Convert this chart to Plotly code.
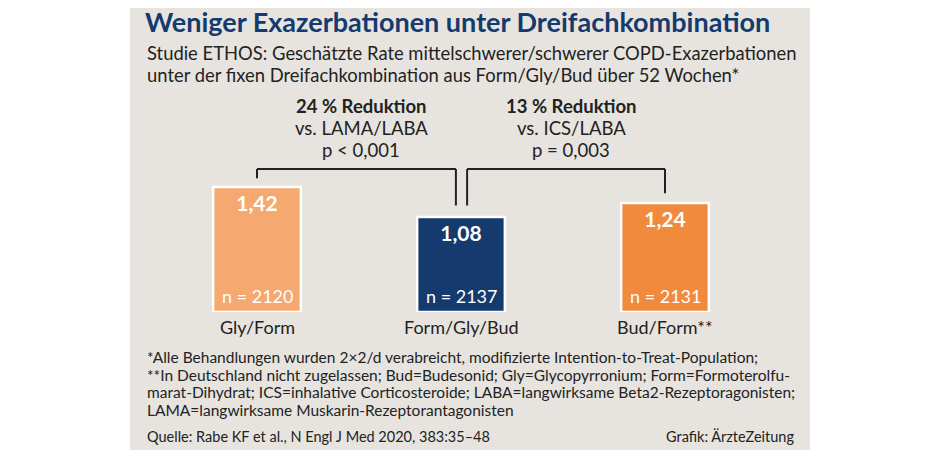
import plotly.graph_objects as go

categories = ["Gly/Form", "Form/Gly/Bud", "Bud/Form**"]
rates = [1.42, 1.08, 1.24]
n_labels = ["n = 2120", "n = 2137", "n = 2131"]
colors = ["#F5A86F", "#143A6E", "#F28A3E"]
xpos = [0, 1, 2]

W, H = 940, 450
OFF = 8  # page body margin
FONT = "Lato"
BG = "#E7E4DF"
BLUE = "#143A6E"

fig = go.Figure()
fig.add_bar(x=xpos, y=rates, width=0.43, marker=dict(color=colors, line=dict(color="white", width=2.5)),
            text=[f"{v:.2f}".replace(".", ",") for v in rates], textposition="inside",
            insidetextanchor="end", textangle=0,
            textfont=dict(family=FONT, size=21, color="white", weight="bold"), hoverinfo="skip")

for x, t in zip(xpos, n_labels):
    fig.add_annotation(x=x, y=0, yshift=16, text=t, showarrow=False, xref="x", yref="y",
                       font=dict(family=FONT, size=18, color="white"), xanchor="center", yanchor="middle")
for x, c in zip(xpos, categories):
    fig.add_annotation(x=x, y=0, yshift=-15, text=c, showarrow=False, xref="x", yref="y",
                       font=dict(family=FONT, size=18, color="#222"), xanchor="center", yanchor="middle")

ytop = 1.625
line = dict(color="#222", width=2)
fig.add_shape(type="line", x0=xpos[0], x1=xpos[0], y0=rates[0] + 0.1, y1=ytop, line=line)
fig.add_shape(type="line", x0=xpos[0], x1=xpos[1] - 0.025, y0=ytop, y1=ytop, line=line)
fig.add_shape(type="line", x0=xpos[1] - 0.025, x1=xpos[1] - 0.025, y0=ytop, y1=rates[1] + 0.13, line=line)
fig.add_shape(type="line", x0=xpos[1] + 0.03, x1=xpos[1] + 0.03, y0=rates[1] + 0.13, y1=ytop, line=line)
fig.add_shape(type="line", x0=xpos[1] + 0.03, x1=xpos[2], y0=ytop, y1=ytop, line=line)
fig.add_shape(type="line", x0=xpos[2], x1=xpos[2], y0=ytop, y1=rates[2] + 0.11, line=line)

brackets = [("24 % Reduktion", "vs. LAMA/LABA", "p < 0,001"), ("13 % Reduktion", "vs. ICS/LABA", "p = 0,003")]
for cx, (a, b, c) in zip([0.51, 1.54], brackets):
    for i, (t, bold) in enumerate([(a, True), (b, False), (c, False)]):
        fig.add_annotation(x=cx, y=ytop, yshift=63 - i * 22, text=f"<b>{t}</b>" if bold else t,
                           showarrow=False, xref="x", yref="y",
                           font=dict(family=FONT, size=18.5, color="#222"), xanchor="center", yanchor="middle")

fig.add_shape(type="rect", xref="paper", yref="paper", x0=(130-OFF)/W, x1=(810-OFF)/W, y0=0, y1=1,
              fillcolor=BG, line=dict(width=0), layer="below")

def txt(x, y, t, size, color="#222", bold=False, anchor="left"):
    fig.add_annotation(x=(x-OFF)/W, y=1 - (y-OFF)/H, xref="paper", yref="paper",
                       text=f"<b>{t}</b>" if bold else t,
                       showarrow=False, xanchor=anchor, yanchor="middle",
                       font=dict(family=FONT, size=size, color=color))

txt(143, 22, "Weniger Exazerbationen unter Dreifachkombination", 27, BLUE, True)
txt(145, 53, "Studie ETHOS: Geschätzte Rate mittelschwerer/schwerer COPD-Exazerbationen", 18.4)
txt(145, 75, "unter der fixen Dreifachkombination aus Form/Gly/Bud über 52 Wochen*", 18.4)
foot = ["*Alle Behandlungen wurden 2×2/d verabreicht, modifizierte Intention-to-Treat-Population;",
        "**In Deutschland nicht zugelassen; Bud=Budesonid; Gly=Glycopyrronium; Form=Formoterolfu-",
        "marat-Dihydrat; ICS=inhalative Corticosteroide; LABA=langwirksame Beta2-Rezeptoragonisten;",
        "LAMA=langwirksame Muskarin-Rezeptorantagonisten"]
for i, t in enumerate(foot):
    txt(145, 357 + i * 17.7, t, 15.5)
txt(145, 436, "Quelle: Rabe KF et al., N Engl J Med 2020, 383:35–48", 14.5)
txt(796, 436, "Grafik: ÄrzteZeitung", 14.5, anchor="right")

fig.update_layout(
    width=W, height=H, margin=dict(l=0, r=0, t=0, b=0), showlegend=False,
    paper_bgcolor="white", plot_bgcolor="rgba(0,0,0,0)",
    xaxis=dict(range=[-1, 3], domain=[(53-OFF)/W, (869-OFF)/W], visible=False, fixedrange=True),
    yaxis=dict(range=[0, 2], domain=[(138+OFF)/H, (314+OFF)/H], visible=False, fixedrange=True),
    uniformtext=dict(minsize=8, mode="show"),
)
fig.write_html("out.html")
